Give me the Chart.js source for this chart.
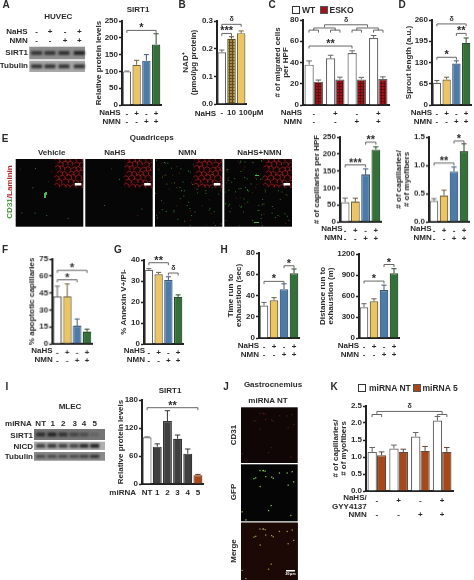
<!DOCTYPE html>
<html><head><meta charset="utf-8">
<script src="https://cdn.jsdelivr.net/npm/chart.js@4"></script>
<style>
html,body{margin:0;padding:0;background:#fff;width:474px;height:580px;overflow:hidden}
#page{position:relative;width:474px;height:580px;font-family:"Liberation Sans",Arial,sans-serif;font-weight:bold;color:#2a2a2a;filter:blur(0.3px)}
.t{position:absolute;white-space:nowrap;line-height:1}
canvas{position:absolute}
.sw{position:absolute;box-sizing:border-box}
</style></head><body><div id="page"><canvas id="decor" width="474" height="580" style="left:0;top:0"></canvas></div>
<script>
// ---------- data ----------
const signs4 = [['-','-'],['+','-'],['-','+'],['+','+']];
const aValues=[100,120,132,180], aErr=[1,13,18,32], aTicks=[0,50,100,150,200,250];
const bCats=['-','10','         100µM'], bValues=[0.187,0.236,0.256], bErr=[0.008,0.007,0.008], bTicks=[0,0.1,0.2,0.3];
const cWT=[38,44,49,63], cWTErr=[3.5,2.8,2,2.4], cESKO=[22,24,24,24.5], cESKOErr=[1.5,2.2,2,2], cTicks=[0,20,40,60,80];
const dValues=[68,78,127,190], dErr=[7,7,8,15], dTicks=[0,65,130,195,260];
const e1Values=[58,60,140,213], e1Err=[12,10,16,8], e1Ticks=[0,50,100,150,200,250];
const e2Values=[0.37,0.47,0.89,1.25], e2Err=[0.04,0.09,0.08,0.13], e2Ticks=[0,0.5,1,1.5];
const fValues=[42,42,16,11], fErr=[9,11,6,2], fTicks=[0,15,30,45,60,75];
const gValues=[35.3,33.2,30.5,22.5], gErr=[0.6,0.9,1.5,0.9], gTicks=[0,10,20,30,40];
const h1Values=[30.5,35.5,46,61], h1Err=[3,2.5,5,4], h1Ticks=[0,20,40,60,80];
const h2Values=[440,525,685,925], h2Err=[50,35,70,65], h2Ticks=[0,300,600,900,1200];
const iCats=['NT','1','2','3','4','5'], iValues=[100,80,135,97,65,19], iErr=[1,6,22,8,10,1.5], iTicks=[0,60,120,180];
const kNT=[1.15,1.25,1.6,2.07], kNTErr=[0.13,0.1,0.12,0.12], kM5=[1.05,1.15,1.18,1.15], kM5Err=[0.1,0.08,0.13,0.13], kTicks=[0,0.5,1,1.5,2,2.5];
const kCats=[['-','-'],['+','-'],['-','+'],['+','+']];
// ---------- look ----------
const FONT='"Liberation Sans",Arial,sans-serif';
const WHITE='#ffffff', YEL='#ecc462', BLUE='#4d7ba9', GRN='#33703a', DARK='#3f3f3f', RUST='#a5481c';
const EDGE={w:'#666666',y:'#6f6238',b:'#3f5772',g:'#2c4a2e'};
const four=[WHITE,YEL,BLUE,GRN], fourEdge=[EDGE.w,EDGE.y,EDGE.b,EDGE.g];
function pattern(bg,fg,step){const c=document.createElement('canvas');c.width=c.height=step;const x=c.getContext('2d');
  x.fillStyle=bg;x.fillRect(0,0,step,step);x.fillStyle=fg;x.fillRect(0,0,step,1);x.fillRect(0,0,1,step);
  return x.createPattern(c,'repeat');}
const page=document.getElementById('page');
function text(s,x,y,o={}){const d=document.createElement('div');d.className='t';d.textContent=s;
  const a=o.align||'c';const tx=a==='c'?'-50%':a==='r'?'-100%':'0';
  d.style.cssText+=`left:${x}px;top:${y}px;font-size:${o.size||8}px;transform:translate(${tx},-50%)${o.rot?' rotate(-90deg)':''};`+(o.color?`color:${o.color};`:'');
  page.appendChild(d);return d;}
const marks={id:'marks',afterDatasetsDraw(ch,_a,o){
  const c=ch.ctx,X=ch.scales.x,Y=ch.scales.y;c.save();
  (o.errs||[]).forEach((arr,di)=>{const m=ch.getDatasetMeta(di);arr.forEach((e,i)=>{
    const el=m.data[i];const v=ch.data.datasets[di].data[i];
    const ec=ch.data.datasets[di].borderColor;c.strokeStyle=Array.isArray(ec)?ec[i]:ec;c.lineWidth=1;
    const y0=Y.getPixelForValue(v),y1=Y.getPixelForValue(v+e),hw=el.width*0.3;
    c.beginPath();c.moveTo(el.x,y0);c.lineTo(el.x,y1);c.moveTo(el.x-hw,y1);c.lineTo(el.x+hw,y1);c.stroke();});});
  (o.brackets||[]).forEach(b=>{const x0=X.getPixelForValue(b[0]),x1=X.getPixelForValue(b[1]),y=Y.getPixelForValue(b[2]);
    c.strokeStyle='#666';c.lineWidth=1;c.beginPath();c.moveTo(x0,y+2.5);c.lineTo(x0,y);c.lineTo(x1,y);c.lineTo(x1,y+2.5);c.stroke();
    if(b[3]){const star=b[3]!=='δ';c.fillStyle='#2a2a2a';c.textAlign='center';c.textBaseline='middle';
      c.font=(star?'bold 11px ':'bold 7px ')+FONT;c.fillText(b[3],(x0+x1)/2,y-(star?2:5));}});
  c.restore();}};
function panel(p){
  const M=p.M,topPad=9,xH=p.xH||24,rp=p.rightPad||3,w=p.right-p.axis+M+rp,h=p.bottom-p.top+topPad+xH;
  const cv=document.createElement('canvas');cv.width=w;cv.height=h;
  cv.style.left=(p.axis-M)+'px';cv.style.top=(p.top-topPad)+'px';cv.style.width=w+'px';cv.style.height=h+'px';page.appendChild(cv);
  new Chart(cv,{type:'bar',data:{labels:p.cats,datasets:p.sets},plugins:[marks],options:{
    responsive:false,animation:false,devicePixelRatio:1,
    layout:{padding:{top:topPad,right:rp,left:0,bottom:0}},
    plugins:{legend:{display:false},tooltip:{enabled:false},title:{display:false},marks:{errs:p.errs,brackets:p.brackets}},
    datasets:{bar:{barPercentage:p.barPct||0.86,categoryPercentage:p.catPct||1,borderWidth:1.2}},
    scales:{
      x:{grid:{display:false,drawTicks:false,tickLength:0},border:{display:true,color:'#222',width:2},
        ticks:{autoSkip:false,maxRotation:0,minRotation:0,padding:p.tickPad||4,color:'#2a2a2a',font:{family:FONT,weight:'bold',size:8,lineHeight:p.rowLH||1.08}},
        afterFit:s=>{s.height=xH;s.paddingLeft=0;s.paddingRight=0;}},
      y:{min:0,max:p.ticks[p.ticks.length-1],
        border:{display:true,color:'#222',width:2},
        grid:{drawOnChartArea:false,drawTicks:true,tickLength:3,tickWidth:1.5,color:'#222'},
        ticks:{padding:1,color:'#2a2a2a',font:{family:FONT,weight:'bold',size:8},callback:v=>Number(v).toFixed(p.dec||0)},
        afterBuildTicks:s=>{s.ticks=p.ticks.map(v=>({value:v}));},
        title:{display:true,text:p.title,color:'#2a2a2a',padding:{top:0,bottom:0},font:{family:FONT,weight:'bold',size:8,lineHeight:p.titleLH||1.1}},
        afterFit:s=>{s.width=M;s.paddingTop=0;s.paddingBottom=0;}}
    }}});
  (p.rows||[]).forEach(r=>text(r[0],p.rowX,r[1],{align:'r'}));
}
function one(values,colors,edges){return [{data:values,backgroundColor:colors,borderColor:edges}];}
const HR=['NaHS','NMN'];
function rows(y0,y1){return [[HR[0],y0],[HR[1],y1]];}

panel({axis:121.5,right:161,top:20.7,bottom:104.7,M:28,cats:signs4,sets:one(aValues,four,fourEdge),errs:[aErr],ticks:aTicks,
  title:'Relative protein levels',brackets:[[0,3,222,'*']],rows:rows(113.3,122),rowX:120.7});
const hatch=pattern('#a5883a','#5f4c1e',3);
panel({axis:217,right:246,top:20.7,bottom:104,M:36,cats:bCats,dec:1,barPct:0.88,rightPad:18,
  sets:one(bValues,[WHITE,hatch,YEL],[EDGE.w,'#5a4a20','#7a6632']),errs:[bErr],ticks:bTicks,
  title:['NAD⁺','(pmol/µg protein)'],brackets:[[0,2,0.288,'δ'],[0,1,0.255,'***']],rows:[['NaHS',113.5]],rowX:216});
const redHatch=pattern('#9a1419','#640d11',3);
panel({axis:303,right:389,top:20,bottom:105,M:30,cats:signs4,catPct:0.86,barPct:1,
  sets:[{data:cWT,backgroundColor:WHITE,borderColor:'#666'},{data:cESKO,backgroundColor:redHatch,borderColor:'#666'}],
  errs:[cWTErr,cESKOErr],ticks:cTicks,title:['# of migrated cells','per HPF'],
  brackets:[[0.5,2.5,75.5,'δ'],[0,1,72.5],[2,3,72.5],[-0.22,0.22,70.5],[0.78,1.22,70.5],[1.78,2.22,70.5],[2.78,3.22,70.5],[-0.22,1.78,55.5,'**']],
  rows:rows(113.3,122),rowX:302});
panel({axis:432,right:471,top:20,bottom:105,M:28,cats:signs4,sets:one(dValues,four,fourEdge),errs:[dErr],ticks:dTicks,
  title:'Sprout length (a.u.)',brackets:[[0,3,248,'δ'],[2,3,219,'**'],[0,2,146,'*']],rows:rows(113.3,122),rowX:432});
panel({axis:340,right:381,top:137.3,bottom:221.7,M:28,cats:signs4,sets:one(e1Values,four,fourEdge),errs:[e1Err],ticks:e1Ticks,
  title:'# of capillaries per HPF',brackets:[[0,2,168,'***'],[2,3,235,'**']],rows:rows(229.3,237.7),rowX:342.5});
panel({axis:428.5,right:469,top:137.3,bottom:221.7,M:35,cats:signs4,dec:1,sets:one(e2Values,four,fourEdge),errs:[e2Err],ticks:e2Ticks,
  title:['# of capillaries/','# of myofibers'],brackets:[[0,2,1.04,'**'],[2,3,1.43,'*']],rows:rows(229.3,237.7),rowX:431.7});
panel({axis:52,right:91.5,top:259.3,bottom:344,M:25,cats:signs4,sets:one(fValues,four,fourEdge),errs:[fErr],ticks:fTicks,
  title:'% apoptotic capillaries',brackets:[[0,3,65,'*'],[0,2,56.7,'*']],rows:rows(351.3,360),rowX:52.7});
panel({axis:143.5,right:183,top:260,bottom:344,M:25,cats:signs4,sets:one(gValues,four,fourEdge),errs:[gErr],ticks:gTicks,
  title:'% Annexin V+/PI-',brackets:[[0,2,38.7,'**'],[2,3,33.8,'δ']],rows:rows(351.3,360),rowX:145});
panel({axis:258.5,right:299,top:253.3,bottom:338.3,M:33,cats:signs4,sets:one(h1Values,four,fourEdge),errs:[h1Err],ticks:h1Ticks,
  title:['Time run to','exhaustion (sec)'],brackets:[[0,2,53.3,'*'],[2,3,68,'*']],rows:rows(346.3,354.7),rowX:259});
panel({axis:358.5,right:399,top:253.5,bottom:338.3,M:41,cats:signs4,sets:one(h2Values,four,fourEdge),errs:[h2Err],ticks:h2Ticks,
  title:['Distance run to','exhaustion (m)'],brackets:[[0,2,813,'*'],[2,3,1050,'*']],rows:rows(346.3,354.7),rowX:359});
panel({axis:142,right:203,top:400,bottom:484.3,M:26,xH:14,cats:iCats,barPct:0.88,
  sets:one(iValues,[WHITE,DARK,DARK,DARK,DARK,RUST],['#666','#333','#333','#333','#333','#6f3215']),errs:[iErr],ticks:iTicks,
  title:'Relative protein levels',brackets:[[0,5,163.5,'**']],rows:[['miRNA',492.5]],rowX:136});
panel({axis:365.5,right:453,top:405.7,bottom:490.7,M:35,cats:kCats,dec:1,catPct:0.86,barPct:1,rowLH:1.7,xH:32,tickPad:3,
  sets:[{data:kNT,backgroundColor:WHITE,borderColor:'#666'},{data:kM5,backgroundColor:RUST,borderColor:'#5f4a3c'}],
  errs:[kNTErr,kM5Err],ticks:kTicks,title:['# of capillaries/','# of myofibers'],
  brackets:[[0,3,2.34,'δ'],[-0.22,0.22,2.25],[2.78,3.22,2.25]],rows:[['NaHS/',498],['GYY4137',507],['NMN',515]],rowX:366.7});

// ---------- panel letters & titles ----------
[['A',6,5],['B',182,5],['C',272,5],['D',402,5],['E',5,139],['F',5,250],['G',118,250],['H',224,250],['I',7,387],['J',226,387],['K',334,387]]
  .forEach(l=>text(l[0],l[1],l[2],{size:10}));
text('SIRT1',138,10);text('SIRT1',170,391);
text('HUVEC',58.3,17);text('NaHS',27.7,32,{align:'r'});text('NMN',27.7,41,{align:'r'});
[36.7,50,65,79.3].forEach((x,i)=>{text(signs4[i][0],x,32);text(signs4[i][1],x,41);});
text('SIRT1',28,53,{align:'r'});text('Tubulin',28,66,{align:'r'});
text('Quadriceps',151.7,137.7);
[['Vehicle',51.7],['NaHS',115],['NMN',187.3],['NaHS+NMN',259.3]].forEach(l=>text(l[0],l[1],152.7));
const cd=text('',10,192,{rot:1});
cd.innerHTML='<span style="color:#4a9a3c">CD31</span><span style="color:#b5282c">/Laminin</span>';
text('MLEC',70,407);text('miRNA',31.7,424,{align:'r'});
[['NT',40.7],['1',52.7],['2',63.3],['3',74.7],['4',84],['5',94.7]].forEach(l=>text(l[0],l[1],424));
text('SIRT1',33,436,{align:'r'});text('NICD',33,447,{align:'r'});text('Tubulin',33,456.7,{align:'r'});
text('Gastrocnemius',273,385);text('miRNA NT',268,401);
text('CD31',234,435,{rot:1});text('GFP',234,492,{rot:1});text('Merge',234,551,{rot:1});
function legend(bx,lab1,lx1,bx2,lab2,lx2,y,fill){
  const a=document.createElement('div');a.className='sw';a.style.cssText+=`left:${bx}px;top:${y-4}px;width:8px;height:8px;border:1px solid #333;background:#fff`;page.appendChild(a);
  text(lab1,lx1,y,{align:'l',size:8.5});
  const b=document.createElement('div');b.className='sw';b.style.cssText+=`left:${bx2}px;top:${y-4}px;width:8px;height:8px;border:1px solid #555;background:${fill}`;page.appendChild(b);
  text(lab2,lx2,y,{align:'l',size:8.5});}
legend(291.5,'WT',302,320,'ESKO',329.5,9.5,'#9c151b');
legend(358,'miRNA NT',369,413,'miRNA 5',422.5,387.7,RUST);

// ---------- blots & micrographs (background pictures) ----------
const d=document.getElementById('decor').getContext('2d');
function blot(x0,x1,y0,y1,bg,band,centers,strength,bw,bh){
  d.fillStyle=bg;d.fillRect(x0,y0,x1-x0,y1-y0);
  d.save();d.filter='blur(1px)';
  centers.forEach((c,i)=>{d.fillStyle=`rgba(${band},${strength[i]})`;d.fillRect(c-bw/2,(y0+y1)/2-bh/2,bw,bh);});
  d.restore();}
blot(29.3,85,46.7,59.3,'#8e8e8e','30,30,30',[36.7,50,64,79.3],[.8,.8,.85,.95],11,4);
blot(29.3,85,60.7,72,'#a8a8a8','30,30,30',[36.7,50,64,79.3],[.85,.85,.85,.85],11,4);
const iB=[40.7,52,63,74,84,94.7];
blot(34,105,429,440,'#767676','25,25,25',iB,[.8,.9,.75,.55,.45,.2],9,4);
blot(34,105,441.7,450,'#b0b0b0','25,25,25',iB,[.75,.8,.75,.7,.9,.95],9,4);
blot(34,105,452,460.7,'#8a8a8a','25,25,25',iB,[.6,.6,.6,.6,.7,.85],9,3);
function fr(v){return v-Math.floor(v);}
function speck(x,y,w,h,n,col,size,off){
  for(let i=0;i<n;i++){const u=fr(Math.sin(i*12.9898+off*77)*43758.5453),v=fr(Math.sin(i*78.233+off*31)*24634.6345);
    d.fillStyle=col;d.fillRect(x+u*(w-size),y+v*(h-size),size,size);}}
function mesh(x,y,w,h){d.save();d.beginPath();d.rect(x,y,w,h);d.clip();d.fillStyle='#160406';d.fillRect(x,y,w,h);
  d.strokeStyle='#a8242a';d.lineWidth=0.7;const s=5.5;
  for(let r=0;r*s*0.8<h+s;r++)for(let c=0;c*s<w+s;c++){const px=x+c*s+(r%2)*s/2+Math.sin(c*2.1+r)*0.8,py=y+r*s*0.8+Math.cos(c+r*1.7)*0.8;
    d.beginPath();d.moveTo(px,py);d.lineTo(px+s/2,py-s*0.3);d.lineTo(px+s,py);d.lineTo(px+s,py+s*0.5);d.stroke();}
  d.restore();}
const mic=[[15.7,83.3,6],[85.3,152.7,5],[155,222.3,60],[224.3,292,70]];
mic.forEach((m,i)=>{const x=m[0],w=m[1]-m[0],y=159,h=67.7;
  d.fillStyle='#060606';d.fillRect(x,y,w,h);
  speck(x,y+0,w,h,m[2],'#357a32',1,0.13*(i+1));
  speck(x,y,w,h,Math.round(m[2]*0.5),'#5a2018',1,0.29*(i+1));
  const ix=x+w*0.57;mesh(ix,y,m[1]-ix,28.7);
  d.fillStyle='#fff';d.fillRect(m[1]-8.5,183,6.5,2.5);});
d.fillStyle='#4fb548';d.fillRect(44,193,2,5);d.fillRect(45,192,2,3);
d.fillStyle='#4fb548';d.fillRect(254,222,5,1);d.fillRect(255,175,4,1);
[[407.3,463,0,'#4a1a12'],[464.3,521.3,1,'#7fc25c'],[522.7,580,2,'#9a9a4a']].forEach(r=>{
  const x=241,w=56.7,y=r[0],h=r[1]-r[0];
  d.fillStyle=r[2]===0?'#110606':'#050505';d.fillRect(x,y,w,h);
  if(r[2]===2){d.fillStyle='#1c0805';d.fillRect(x,y,w,h);}
  speck(x,y,w,h,20,r[3],1.3,0.41);
  if(r[2]===2){d.fillStyle='#fff';d.fillRect(286,570,9,1.5);}
});
text('20 µm',290.5,575,{size:3.5,color:'#fff'});
</script></body></html>
